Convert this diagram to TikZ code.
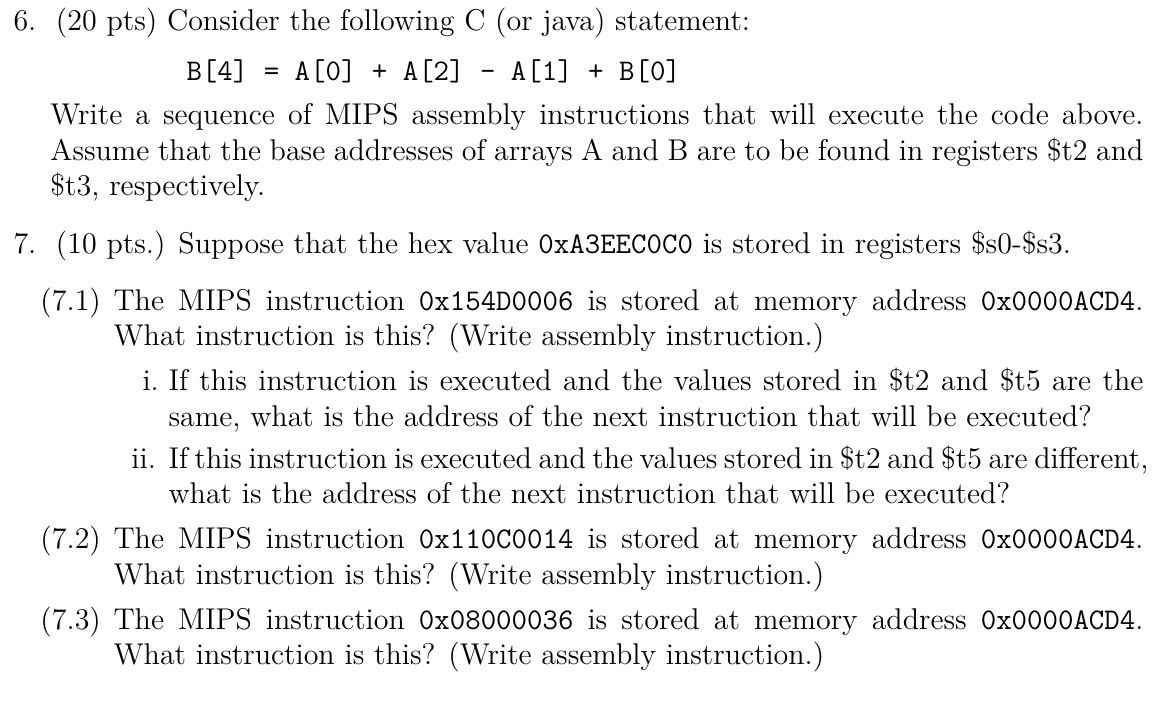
\documentclass[tikz,border=0pt]{standalone}
\begin{document}
\begin{tikzpicture}[x=0.4pt,y=-0.4pt,
  ln/.style={anchor=base west,inner sep=0pt,font=\fontsize{12}{14.4}\selectfont}]
\useasboundingbox (0,0) rectangle (1155,708);
\node[ln] (a1) at (13,30) {6.\ \ (20 pts) Consider the following C (or java) statement:};
\node[ln] (a2) at (186,80) {\makebox[197.6pt][s]{\ttfamily B[4] = A[0] + A[2] - A[1] + B[0]}};
\node[ln] (a3) at (50,124) {\makebox[437.2pt][s]{Write a sequence of MIPS assembly instructions that will execute the code above.}};
\node[ln] (a4) at (50,160) {\makebox[437.2pt][s]{Assume that the base addresses of arrays A and B are to be found in registers \$t2 and}};
\node[ln] (a5) at (50,195) {\$t3, respectively.};
\node[ln] (b1) at (13,253) {7.\ \ (10 pts.) Suppose that the hex value {\ttfamily 0xA3EEC0C0} is stored in registers \$s0-\$s3.};
\node[ln] (c0) at (40,310) {(7.1)};
\node[ln] (c1) at (113,310) {\makebox[412pt][s]{The MIPS instruction {\ttfamily 0x154D0006} is stored at memory address {\ttfamily 0x0000ACD4}.}};
\node[ln] (c2) at (113,345) {What instruction is this? (Write assembly instruction.)};
\node[ln] (d0) at (142,390) {i.};
\node[ln] (d1) at (168,390) {\makebox[390pt][s]{If this instruction is executed and the values stored in \$t2 and \$t5 are the}};
\node[ln] (d2) at (168,426) {same, what is the address of the next instruction that will be executed?};
\node[ln] (e0) at (131,468) {ii.};
\node[ln] (e1) at (168,468) {\makebox[390pt][s]{If this instruction is executed and the values stored in \$t2 and \$t5 are different,}};
\node[ln] (e2) at (168,503) {what is the address of the next instruction that will be executed?};
\node[ln] (f0) at (40,548) {(7.2)};
\node[ln] (f1) at (113,548) {\makebox[412pt][s]{The MIPS instruction {\ttfamily 0x110C0014} is stored at memory address {\ttfamily 0x0000ACD4}.}};
\node[ln] (f2) at (113,584) {What instruction is this? (Write assembly instruction.)};
\node[ln] (g0) at (40,629) {(7.3)};
\node[ln] (g1) at (113,629) {\makebox[412pt][s]{The MIPS instruction {\ttfamily 0x08000036} is stored at memory address {\ttfamily 0x0000ACD4}.}};
\node[ln] (g2) at (113,664) {What instruction is this? (Write assembly instruction.)};
\end{tikzpicture}
\end{document}
